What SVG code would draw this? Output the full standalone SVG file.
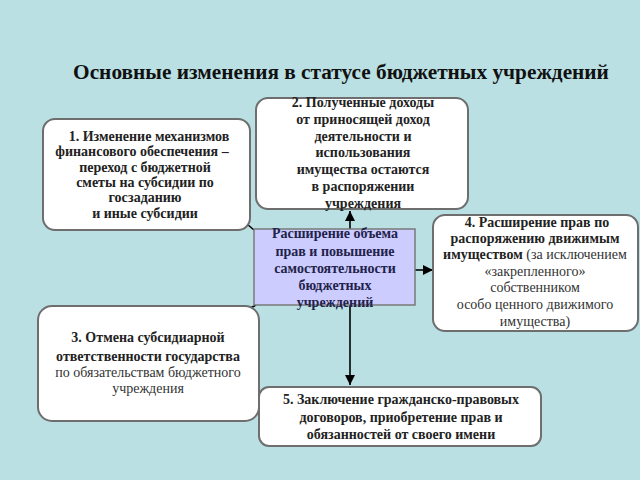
<svg xmlns="http://www.w3.org/2000/svg" width="640" height="480" viewBox="0 0 640 480">
<defs>
<marker id="ah" viewBox="0 0 10 10" refX="10" refY="5" markerWidth="10" markerHeight="10" markerUnits="userSpaceOnUse" orient="auto">
<path d="M0,0 L10,5 L0,10 z" fill="#000"/>
</marker>
<style>
.box{fill:#fff;stroke:#6e6e6e;stroke-width:2}
.cbox{fill:#ccccff;stroke:#7a7a7a;stroke-width:1.5}
text{font-family:"Liberation Serif","Times New Roman",serif;font-size:14px;fill:#222;text-anchor:middle}
.b{font-weight:bold}
.n{font-weight:normal;fill:#333}
.title{font-size:21.3px;font-weight:bold;fill:#111}
.ctext{fill:#22224a;font-weight:bold}
.conn line{stroke:#000;stroke-width:1.6;marker-end:url(#ah)}
</style>
</defs>
<rect width="640" height="480" fill="#bae0e3"/>
<text class="title" x="341" y="79">Основные изменения в статусе бюджетных учреждений</text>

<g class="conn">
<line x1="350" y1="300" x2="350" y2="211"/>
<line x1="350" y1="240" x2="350" y2="385"/>
<line x1="254" y1="230" x2="234" y2="213"/>
<line x1="256" y1="305" x2="236" y2="316"/>
<line x1="415" y1="270" x2="433" y2="270"/>
</g>

<g id="center">
<rect class="cbox" x="254" y="229" width="161" height="76"/>
<text class="ctext" x="335" y="238">Расширение объема</text>
<text class="ctext" x="335" y="256">прав и повышение</text>
<text class="ctext" x="335" y="273">самостоятельности</text>
<text class="ctext" x="335" y="290">бюджетных</text>
<text class="ctext" x="335" y="307">учреждений</text>
</g>

<g id="box1">
<rect class="box" x="43" y="119" width="207" height="111" rx="12"/>
<text class="b" x="149" y="141">1. Изменение механизмов</text>
<text class="b" x="142" y="156">финансового обеспечения –</text>
<text class="b" x="145" y="172">переход с бюджетной</text>
<text class="b" x="145" y="187">сметы на субсидии по</text>
<text class="b" x="145" y="202">госзаданию</text>
<text class="b" x="145" y="218">и иные субсидии</text>
</g>

<g id="box2">
<rect class="box" x="256" y="98" width="212" height="111" rx="12"/>
<text class="b" x="363" y="107">2. Полученные доходы</text>
<text class="b" x="363" y="124">от приносящей доход</text>
<text class="b" x="363" y="141">деятельности и</text>
<text class="b" x="363" y="157">использования</text>
<text class="b" x="363" y="174">имущества остаются</text>
<text class="b" x="363" y="191">в распоряжении</text>
<text class="b" x="363" y="208">учреждения</text>
</g>

<g id="box4">
<rect class="box" x="433" y="215" width="205" height="116" rx="12"/>
<text class="b" x="537" y="227">4. Расширение прав по</text>
<text class="b" x="535" y="243">распоряжению движимым</text>
<text x="535" y="259"><tspan class="b">имуществом</tspan><tspan class="n"> (за исключением</tspan></text>
<text class="n" x="535" y="276">«закрепленного»</text>
<text class="n" x="535" y="292">собственником</text>
<text class="n" x="535" y="309">особо ценного движимого</text>
<text class="n" x="535" y="326">имущества)</text>
</g>

<g id="box3">
<rect class="box" x="38" y="306" width="221" height="115" rx="14"/>
<text class="b" x="148" y="342">3. Отмена субсидиарной</text>
<text class="b" x="148" y="361">ответственности государства</text>
<text class="n" x="148" y="377">по обязательствам бюджетного</text>
<text class="n" x="148" y="393">учреждения</text>
</g>

<g id="box5">
<rect class="box" x="259" y="387" width="282" height="59" rx="10"/>
<text class="b" x="401" y="404">5. Заключение гражданско-правовых</text>
<text class="b" x="401" y="422">договоров, приобретение прав и</text>
<text class="b" x="401" y="439">обязанностей от своего имени</text>
</g>
</svg>
